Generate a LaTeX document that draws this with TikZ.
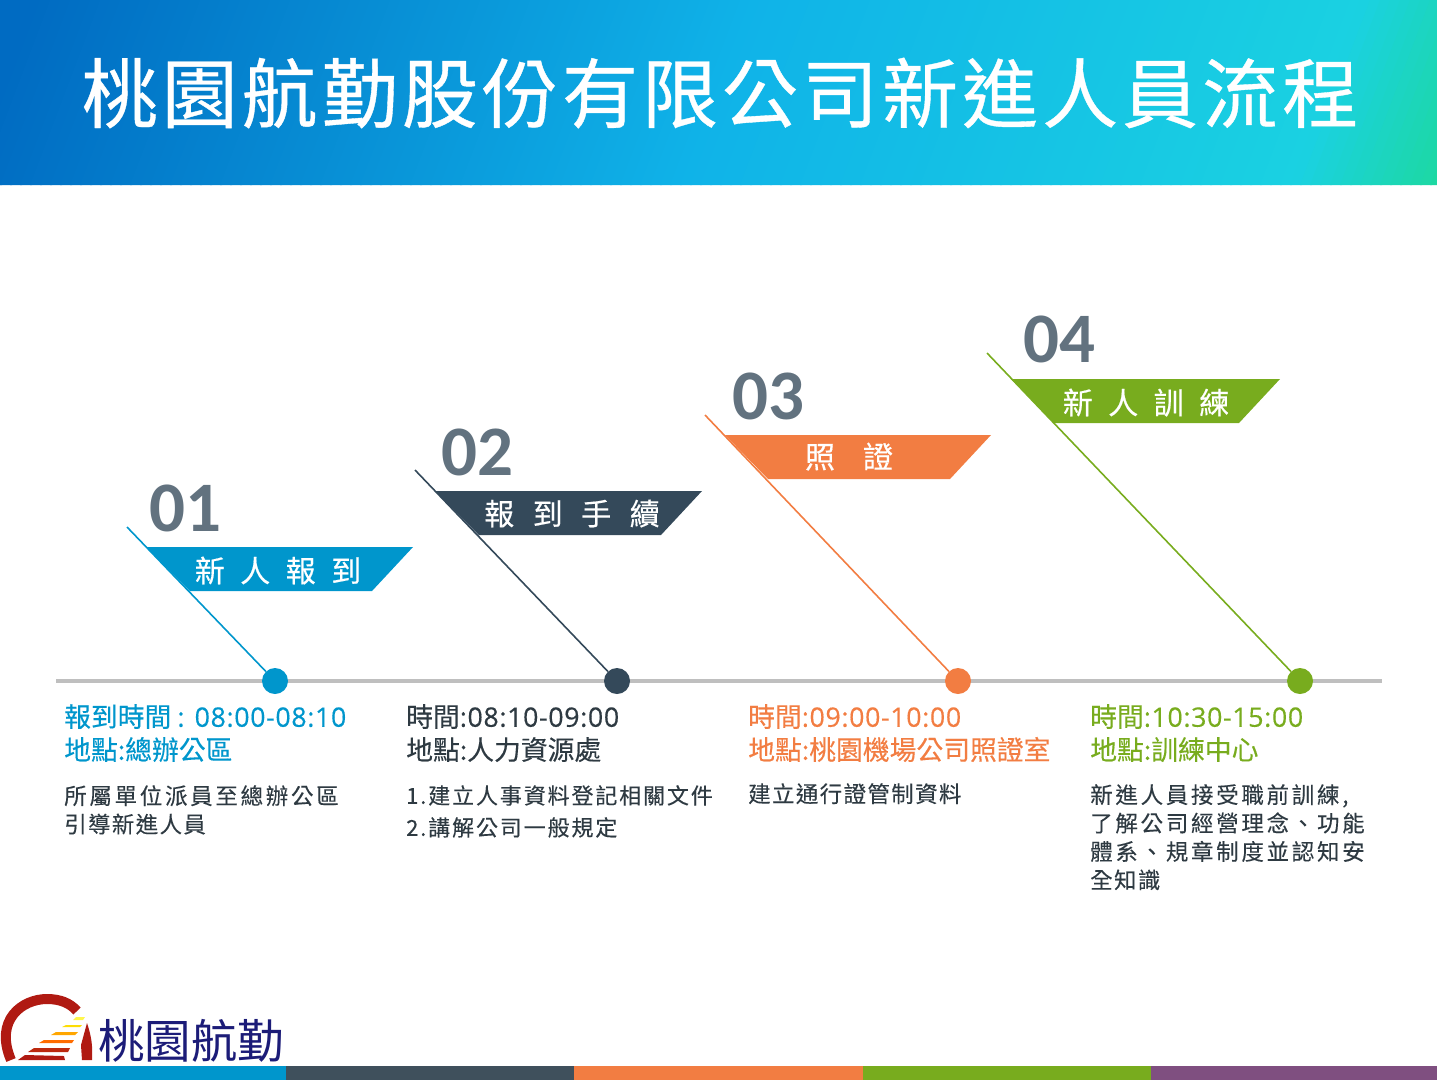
\documentclass[tikz,border=0pt]{standalone}
\usepackage{fontspec}
\setmainfont{Noto Sans CJK TC}
\newfontfamily\titlef[LetterSpace=5.3,FakeBold=0.5]{Noto Sans CJK TC}
\newfontfamily\headf[FakeBold=0.25]{Noto Sans CJK TC}
\newfontfamily\latf[FakeBold=0.4,LetterSpace=2.3]{Open Sans}
\newfontfamily\logof{Noto Sans CJK TC}
\newfontfamily\bodyf[LetterSpace=12,FakeBold=0.15]{Noto Sans CJK TC}
\newfontfamily\bodyg[LetterSpace=8.5,FakeBold=0.15]{Noto Sans CJK TC}
\newfontfamily\bodyh[LetterSpace=6,FakeBold=0.15]{Noto Sans CJK TC}
\newfontfamily\flagf[FakeBold=0.4]{Noto Sans CJK TC}
\newfontfamily\numf{Carlito}
\newcommand{\lat}[1]{{\latf #1}}
\definecolor{cA}{HTML}{0096CC}
\definecolor{cB}{HTML}{34495A}
\definecolor{cC}{HTML}{F27D42}
\definecolor{cD}{HTML}{78AC1E}
\definecolor{cE}{HTML}{7F4F80}
\definecolor{cF}{HTML}{3F505C}
\definecolor{numc}{HTML}{62727F}
\definecolor{bodyc}{HTML}{2E3A42}
\definecolor{logored}{HTML}{B01A12}
\definecolor{logonavy}{HTML}{1C1C78}
\tikzset{
  x=1pt,y=-1pt,
  numlabel/.style={anchor=base,inner sep=0pt,text=numc,font=\numf\bfseries\fontsize{71}{71}\selectfont},
  flagtext/.style={anchor=base,inner sep=0pt,text=white,font=\flagf\fontsize{30}{30}\selectfont},
  headtext/.style={anchor=north west,inner sep=0pt,align=left,font=\headf\fontsize{26.8}{33}\selectfont},
  bodytext/.style={anchor=north west,inner sep=0pt,align=left,text=bodyc,font=\bodyf\fontsize{22.5}{28.4}\selectfont},
  stem/.style={line width=1.6pt},
  dotnode/.style={circle,inner sep=0pt,minimum size=26pt},
}
\begin{document}
\begin{tikzpicture}
\useasboundingbox (0,0) rectangle (1437,1080);
% banner
\begin{scope}
\clip (0,0) rectangle (1437,185);
\foreach \i in {-6,...,150}{
  \pgfmathsetmacro{\t}{max(0,\i/143)}
  \pgfmathsetmacro{\r}{\t<0.5 ? 0.00+0.12*\t : 0.06+0.10*(\t-0.5)}
  \pgfmathsetmacro{\g}{\t<0.5 ? 0.42+0.56*\t : 0.70+0.28*(\t-0.5)}
  \pgfmathsetmacro{\b}{\t<0.5 ? 0.76+0.30*\t : (\t<0.93 ? 0.91-0.06*(\t-0.5) : 0.884-2.5*(\t-0.93))}
  \definecolor{stripc}{rgb}{\r,\g,\b}
  \fill[stripc] (\i*10+30,0) -- (\i*10+42,0) -- (\i*10-28,185) -- (\i*10-40,185) -- cycle;
}
\end{scope}
\node[anchor=base,inner sep=0pt,text=white,font=\titlef\fontsize{76}{76}\selectfont] (title) at (720,122) {桃園航勤股份有限公司新進人員流程};
% timeline
\coordinate (tlS) at (56,681);
\coordinate (tlE) at (1382,681);
\draw[line width=4pt,color=black!25] (tlS) -- (tlE);
% dots
\node[dotnode,fill=cA] (d1) at (275,681) {};
\node[dotnode,fill=cB] (d2) at (617,681) {};
\node[dotnode,fill=cC] (d3) at (958,681) {};
\node[dotnode,fill=cD] (d4) at (1300,681) {};
% stems
\coordinate (s1) at (127,527);
\coordinate (s2) at (415,470);
\coordinate (s3) at (705,415);
\coordinate (s4) at (987,353);
\draw[stem,cA] (s1) -- (d1);
\draw[stem,cB] (s2) -- (d2);
\draw[stem,cC] (s3) -- (d3);
\draw[stem,cD] (s4) -- (d4);
% flags
\fill[cA] (146,547) -- (413,547) -- (372,591) -- (190,591) -- cycle;
\fill[cB] (435,491) -- (702,491) -- (661,535) -- (479,535) -- cycle;
\fill[cC] (725,435) -- (991,435) -- (950,479) -- (768,479) -- cycle;
\fill[cD] (1011,379) -- (1280,379) -- (1239,423) -- (1054,423) -- cycle;
\node[flagtext] (f1) at (278,582) {新\hspace{15.5pt}人\hspace{15.5pt}報\hspace{15.5pt}到};
\node[flagtext] (f2) at (572,525) {報\hspace{18.5pt}到\hspace{18.5pt}手\hspace{18.5pt}續};
\node[flagtext] (f3) at (849,468) {照\hspace{28pt}證};
\node[flagtext] (f4) at (1146,414) {新\hspace{15.5pt}人\hspace{15.5pt}訓\hspace{15.5pt}練};
% numbers
\node[numlabel] (n1) at (185,531) {01};
\node[numlabel] (n2) at (477,475) {02};
\node[numlabel] (n3) at (768,419) {03};
\node[numlabel] (n4) at (1059,362) {04};
% headings
\node[headtext,text=cA] (h1) at (64,704) {報到時間 \lat{: 08:00-08:10}\\地點:總辦公區};
\node[headtext,text=bodyc] (h2) at (406,704) {時間\lat{:08:10-09:00}\\地點:人力資源處};
\node[headtext,text=cC] (h3) at (748,704) {時間\lat{:09:00-10:00}\\地點:桃園機場公司照證室};
\node[headtext,text=cD] (h4) at (1090,704) {時間\lat{:10:30-15:00}\\地點:訓練中心};
% bodies
\node[bodytext] (b1) at (64,785) {所屬單位派員至總辦公區\\{\bodyh 引導新進人員}};
\node[bodytext,font=\bodyg\fontsize{22}{32}\selectfont] (b2) at (406,785) {1.建立人事資料登記相關文件\\2.講解公司一般規定};
\node[bodytext,font=\bodyh\fontsize{22.5}{28.4}\selectfont] (b3) at (748,783) {建立通行證管制資料};
\node[bodytext] (b4) at (1090,784) {新進人員接受職前訓練,\\了解公司經營理念、功能\\體系、規章制度並認知安\\{\bodyh 全知識}};
% logo
\draw[logored,line width=10pt] (11,1060) .. controls (-6,1020) and (22,999) .. (47,999) .. controls (60,999) and (70,1003) .. (77,1011);
\fill[logored] (82,1060) -- (92,1060) .. controls (93,1045) and (91,1035) .. (87,1023) -- (81,1045) -- cycle;
\fill[logored] (18,1060) -- (65,1060) -- (64,1056) -- (25,1055) -- cycle;
\fill[logored!85!orange] (28,1052) -- (68,1052) -- (70,1048) -- (34,1048) -- cycle;
\fill[orange!85!red] (39,1043) -- (72,1043) -- (74,1040) -- (44,1040) -- cycle;
\fill[orange!70!yellow] (51,1035) -- (75,1035) -- (78,1032) -- (56,1032) -- cycle;
\fill[yellow!80!orange] (62,1027) -- (80,1027) -- (82,1025) -- (66,1025) -- cycle;
\fill[yellow!70!white] (73,1020) -- (83,1020) -- (85,1017) -- (76,1017) -- cycle;
\node[anchor=base west,inner sep=0pt,text=logonavy,font=\logof\fontsize{46.5}{46.5}\selectfont] (logo) at (98,1058) {桃園航勤};
% bottom bars
\fill[cA] (0,1066) rectangle (286,1080);
\fill[cF] (286,1066) rectangle (574,1080);
\fill[cC] (574,1066) rectangle (863,1080);
\fill[cD] (863,1066) rectangle (1151,1080);
\fill[cE] (1151,1066) rectangle (1437,1080);
\end{tikzpicture}
\end{document}
